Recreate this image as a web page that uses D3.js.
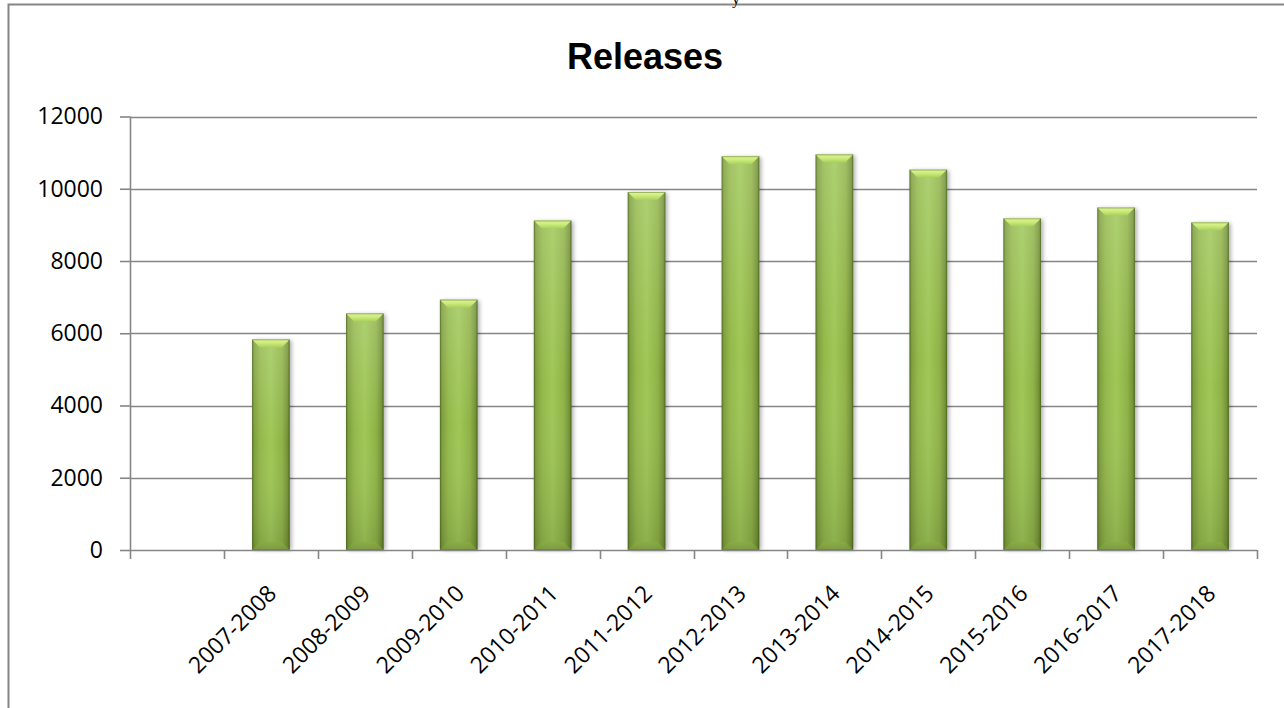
<!DOCTYPE html>
<html>
<head>
<meta charset="utf-8">
<script src="https://cdn.jsdelivr.net/npm/d3@7"></script>
<style>
  html, body { margin: 0; padding: 0; background: #ffffff; }
  svg { display: block; }
</style>
</head>
<body>
<svg id="chart" width="1284" height="708"></svg>
<script>
// Release counts per season (first slot is an empty category)
const categories = ["", "2007-2008", "2008-2009", "2009-2010", "2010-2011", "2011-2012",
  "2012-2013", "2013-2014", "2014-2015", "2015-2016", "2016-2017", "2017-2018"];
const releases = [null, 5830, 6550, 6930, 9120, 9910, 10900, 10950, 10530, 9180, 9480, 9070];
const yTicks = [0, 2000, 4000, 6000, 8000, 10000, 12000];
const chartTitle = "Releases";

const svg = d3.select("#chart");
const W = 1284, H = 708;
const plot = { left: 130, right: 1257, top: 116.5, bottom: 550 };
const axisColor = "#868686";
const labelFont = "'Open Sans', 'Noto Sans', sans-serif";
const titleFont = "'Liberation Sans', Arial, sans-serif";

const defs = svg.append("defs");

// Body shading: darker edges, lighter centre
const hGrad = defs.append("linearGradient").attr("id", "barBody").attr("x1", "0").attr("x2", "1").attr("y1", "0").attr("y2", "0");
[[0, "#5e7a28"], [0.06, "#7e9f3c"], [0.22, "#93b84b"], [0.5, "#9fc756"], [0.8, "#8fb247"], [0.94, "#749336"], [1, "#556f24"]]
  .forEach(([o, c]) => hGrad.append("stop").attr("offset", o).attr("stop-color", c));

// Vertical light falloff laid over the body
const vGrad = defs.append("linearGradient").attr("id", "barFade").attr("x1", "0").attr("x2", "0").attr("y1", "0").attr("y2", "1");
[[0, "#ffffff", 0.16], [0.5, "#ffffff", 0.0], [1, "#000000", 0.12]]
  .forEach(([o, c, a]) => vGrad.append("stop").attr("offset", o).attr("stop-color", c).attr("stop-opacity", a));

// Top bevel highlight
const topGrad = defs.append("linearGradient").attr("id", "barTop").attr("x1", "0").attr("x2", "0").attr("y1", "0").attr("y2", "1");
[[0, "#e2f79a"], [0.5, "#c9e978"], [1, "#a8d05a"]]
  .forEach(([o, c]) => topGrad.append("stop").attr("offset", o).attr("stop-color", c));

// Bottom bevel
const botGrad = defs.append("linearGradient").attr("id", "barBottom").attr("x1", "0").attr("x2", "0").attr("y1", "0").attr("y2", "1");
[[0, "#8aab45"], [1, "#7a9a3a"]]
  .forEach(([o, c]) => botGrad.append("stop").attr("offset", o).attr("stop-color", c));

const shadow = defs.append("filter").attr("id", "barShadow").attr("x", "-50%").attr("y", "-10%").attr("width", "200%").attr("height", "120%");
shadow.append("feGaussianBlur").attr("stdDeviation", 2.2);

// Outer frame
svg.append("rect")
  .attr("x", 8.5).attr("y", 4.5)
  .attr("width", W + 20).attr("height", H + 20)
  .attr("fill", "#ffffff")
  .attr("stroke", axisColor).attr("stroke-width", 2);

// Fragment of surrounding text above the frame
svg.append("text")
  .attr("x", 732).attr("y", 4)
  .attr("font-family", "'Liberation Serif', 'Times New Roman', serif")
  .attr("font-size", 16)
  .attr("fill", "#000")
  .text("y");

// Scales
const x = d3.scaleBand().domain(categories.map((c, i) => i)).range([plot.left, plot.right]).padding(0);
const y = d3.scaleLinear().domain([0, 12000]).range([plot.bottom, plot.top]);
const step = x.step();
const barW = step / 2.5;

// Horizontal gridlines
svg.append("g").selectAll("line")
  .data(yTicks.filter(t => t > 0))
  .join("line")
  .attr("x1", plot.left).attr("x2", plot.right)
  .attr("y1", d => Math.round(y(d)) + 0.5).attr("y2", d => Math.round(y(d)) + 0.5)
  .attr("stroke", axisColor).attr("stroke-width", 1.6);

// Y axis
const yAxis = svg.append("g")
  .attr("transform", `translate(${plot.left},0)`)
  .call(d3.axisLeft(y).tickValues(yTicks).tickFormat(d3.format("d")).tickSize(10).tickPadding(17));
yAxis.select(".domain").attr("stroke", axisColor).attr("stroke-width", 1.6).attr("d", `M0.5,${plot.top}V${plot.bottom}`);
yAxis.selectAll(".tick line").attr("stroke", axisColor).attr("stroke-width", 1.6);
yAxis.selectAll(".tick text")
  .attr("font-family", labelFont).attr("font-size", 23).attr("fill", "#000");

// Bars
const bars = svg.append("g").selectAll("g.bar")
  .data(categories.map((c, i) => ({ c, i, v: releases[i] })).filter(d => d.v != null))
  .join("g").attr("class", "bar");

bars.append("rect")
  .attr("x", d => x(d.i) + (step - barW) / 2 + 2)
  .attr("y", d => y(d.v) + 1)
  .attr("width", barW)
  .attr("height", d => plot.bottom - y(d.v) - 1)
  .attr("fill", "#000").attr("opacity", 0.32)
  .attr("filter", "url(#barShadow)");

bars.append("rect")
  .attr("x", d => x(d.i) + (step - barW) / 2)
  .attr("y", d => y(d.v))
  .attr("width", barW)
  .attr("height", d => plot.bottom - y(d.v))
  .attr("fill", "url(#barBody)");

bars.append("rect")
  .attr("x", d => x(d.i) + (step - barW) / 2)
  .attr("y", d => y(d.v))
  .attr("width", barW)
  .attr("height", d => plot.bottom - y(d.v))
  .attr("fill", "url(#barFade)");

const bevel = 8;
bars.append("path")
  .attr("d", d => {
    const x0 = x(d.i) + (step - barW) / 2, x1 = x0 + barW, yt = y(d.v);
    return `M${x0},${yt}L${x1},${yt}L${x1 - bevel},${yt + bevel}L${x0 + bevel},${yt + bevel}Z`;
  })
  .attr("fill", "url(#barTop)");

bars.append("path")
  .attr("d", d => {
    const x0 = x(d.i) + (step - barW) / 2, x1 = x0 + barW, yb = plot.bottom;
    return `M${x0},${yb}L${x1},${yb}L${x1 - bevel},${yb - bevel}L${x0 + bevel},${yb - bevel}Z`;
  })
  .attr("fill", "url(#barBottom)").attr("opacity", 0.8);

bars.append("rect")
  .attr("x", d => x(d.i) + (step - barW) / 2 + 0.5)
  .attr("y", d => y(d.v) + 0.5)
  .attr("width", barW - 1)
  .attr("height", d => plot.bottom - y(d.v) - 1)
  .attr("fill", "none")
  .attr("stroke", "#4f6a1e").attr("stroke-opacity", 0.45).attr("stroke-width", 1);

// X axis line and category boundary ticks
svg.append("line")
  .attr("x1", plot.left).attr("x2", plot.right)
  .attr("y1", plot.bottom + 0.5).attr("y2", plot.bottom + 0.5)
  .attr("stroke", axisColor).attr("stroke-width", 1.6);

const bounds = categories.map((c, i) => x(i)).concat([x(categories.length - 1) + step]);
svg.append("g").selectAll("line")
  .data(bounds)
  .join("line")
  .attr("x1", d => Math.round(d) + 0.5).attr("x2", d => Math.round(d) + 0.5)
  .attr("y1", plot.bottom).attr("y2", plot.bottom + 9)
  .attr("stroke", axisColor).attr("stroke-width", 1.6);

// Rotated category labels
svg.append("g").selectAll("text")
  .data(categories.map((c, i) => ({ c, i })).filter(d => d.c !== ""))
  .join("text")
  .attr("transform", d => `translate(${x(d.i) + step / 2 + 7},${plot.bottom + 45}) rotate(-45)`)
  .attr("text-anchor", "end")
  .attr("font-family", labelFont).attr("font-size", 23).attr("fill", "#000")
  .text(d => d.c);

// Title
svg.append("text")
  .attr("x", 645).attr("y", 69)
  .attr("text-anchor", "middle")
  .attr("font-family", titleFont).attr("font-weight", "bold").attr("font-size", 36)
  .attr("fill", "#000")
  .text(chartTitle);
</script>
</body>
</html>
